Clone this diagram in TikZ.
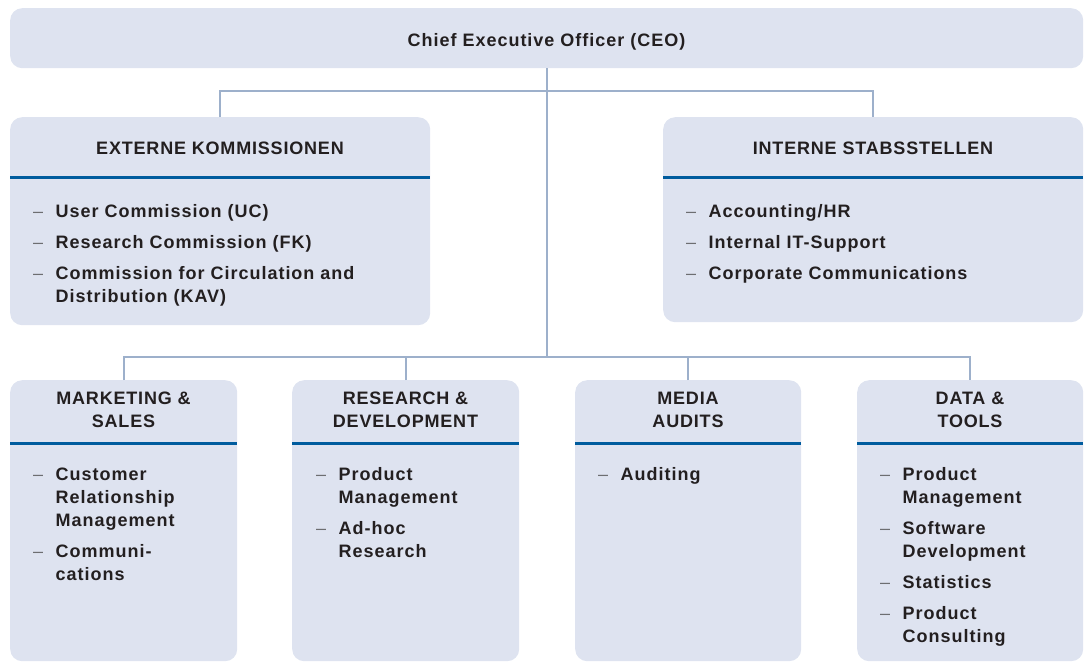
\documentclass[tikz,border=0pt]{standalone}
\usepackage{fontspec}
\setmainfont{Liberation Sans}
\newfontfamily\trackfont{Liberation Sans}[LetterSpace=5.5]
\newfontfamily\headfont{Liberation Sans}[LetterSpace=4.5]
\usetikzlibrary{positioning}

\definecolor{boxfill}{HTML}{DEE3F0}
\definecolor{headline}{HTML}{005C9E}
\definecolor{linkline}{HTML}{9DB0CB}
\definecolor{inkdark}{HTML}{231F20}
\definecolor{dashgray}{HTML}{6D6E71}

% one entry of a list, dash hanging in front
\newcommand{\entry}[1]{\par\hangindent=22.5pt\hangafter=1\noindent\makebox[22.5pt][l]{\textcolor{dashgray}{\mdseries –}}#1}
\newcommand{\entrylist}[2]{\parbox[t]{#1}{\setlength{\parskip}{8pt}\fontsize{18}{23}\selectfont\trackfont\bfseries #2}}
\newcommand{\headtext}[2]{\parbox[t]{#1}{\centering\fontsize{18}{23}\selectfont\headfont\bfseries #2}}

\begin{document}
\begin{tikzpicture}[x=1pt,y=-1pt,
    box/.style={fill=boxfill, rounded corners=12pt, inner sep=0pt, anchor=north west},
    link/.style={draw=linkline, line width=1.8pt},
    rule/.style={draw=headline, line width=3pt},
    txt/.style={inner sep=0pt, text=inkdark, anchor=base}]
\useasboundingbox (0,0) rectangle (1085,662);
% boxes
\node[box, minimum width=1073pt, minimum height=60pt] (ceo) at (10,8) {};
\node[box, minimum width=420pt, minimum height=208pt] (ext) at (10,117) {};
\node[box, minimum width=420pt, minimum height=205pt] (int) at (663,117) {};
\node[box, minimum width=227pt, minimum height=281pt] (mkt) at (10,380) {};
\node[box, minimum width=227pt, minimum height=281pt] (rnd) at (292,380) {};
\node[box, minimum width=226pt, minimum height=281pt] (media) at (575,380) {};
\node[box, minimum width=226pt, minimum height=281pt] (data) at (857,380) {};
% header rules
\coordinate (rule-top) at (0,177);
\coordinate (rule-low) at (0,443);
\foreach \b in {ext,int}
  \draw[rule] (\b.west |- rule-top) -- (\b.east |- rule-top);
\foreach \b in {mkt,rnd,media,data}
  \draw[rule] (\b.west |- rule-low) -- (\b.east |- rule-low);
% connectors
\coordinate (bus) at (547,357);
\draw[link] (ceo.south) -- (ceo.south |- bus);
\draw[link] (ext.north) -- ++(0,-26) -| (int.north);
\draw[link] (mkt.north) -- ++(0,-23) -| (data.north);
\draw[link] (rnd.north) -- ++(0,-23);
\draw[link] (media.north) -- ++(0,-23);
% titles
\node[txt] (ceo-text) at (546.5,46.5) {\fontsize{18}{23}\selectfont\trackfont\bfseries Chief Executive Officer (CEO)};
\node[txt] (ext-head) at (220,154.5) {\headtext{400pt}{EXTERNE KOMMISSIONEN}};
\node[txt] (int-head) at (873,154.5) {\headtext{400pt}{INTERNE STABSSTELLEN}};
\node[txt] (mkt-head) at (123.5,404.5) {\headtext{220pt}{MARKETING \&\\SALES}};
\node[txt] (rnd-head) at (405.5,404.5) {\headtext{220pt}{RESEARCH \&\\DEVELOPMENT}};
\node[txt] (media-head) at (688,404.5) {\headtext{220pt}{MEDIA\\AUDITS}};
\node[txt] (data-head) at (970,404.5) {\headtext{220pt}{DATA \&\\TOOLS}};
% lists
\node[txt, anchor=base west] (ext-list) at (33,217.5) {\entrylist{390pt}{%
  \entry{User Commission (UC)}
  \entry{Research Commission (FK)}
  \entry{Commission for Circulation and\\Distribution (KAV)}}};
\node[txt, anchor=base west] (int-list) at (686,217.5) {\entrylist{390pt}{%
  \entry{Accounting/HR}
  \entry{Internal IT-Support}
  \entry{Corporate Communications}}};
\node[txt, anchor=base west] (mkt-list) at (33,480.5) {\entrylist{200pt}{%
  \entry{Customer\\Relationship\\Management}
  \entry{Communi-\\cations}}};
\node[txt, anchor=base west] (rnd-list) at (316,480.5) {\entrylist{200pt}{%
  \entry{Product\\Management}
  \entry{Ad-hoc\\Research}}};
\node[txt, anchor=base west] (media-list) at (598,480.5) {\entrylist{200pt}{%
  \entry{Auditing}}};
\node[txt, anchor=base west] (data-list) at (880,480.5) {\entrylist{200pt}{%
  \entry{Product\\Management}
  \entry{Software\\Development}
  \entry{Statistics}
  \entry{Product\\Consulting}}};
\end{tikzpicture}
\end{document}
